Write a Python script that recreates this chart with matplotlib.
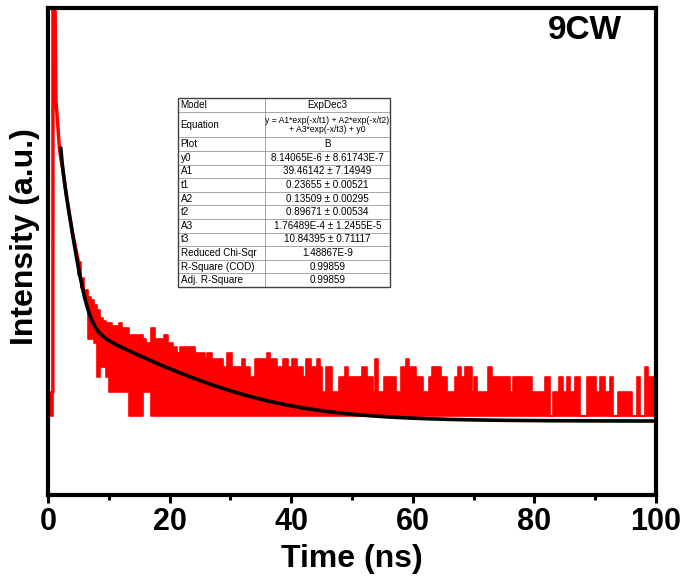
import numpy as np
import matplotlib.pyplot as plt
from matplotlib.ticker import MultipleLocator, NullLocator
from matplotlib.patches import Rectangle

plt.rcParams['font.family'] = ['Liberation Sans', 'DejaVu Sans']

# one detector count on the normalised intensity scale
count_unit = 9.4e-6

# background before the pulse (ns, counts)
pre_t = [0.0, 0.8]
pre_hi = [2, 2]
pre_lo = [1, 1]

# rise and fast decay (ns, counts)
early_t = [0.8, 0.82, 1.15, 1.3, 1.55, 1.9, 2.5, 3.0, 4.0, 5.0]
early_counts = [2, 150000, 140000, 7800, 4400, 1890, 1000, 540, 185, 80]

# noisy trace read as a band: upper level of each stretch (start time, counts)
band_t = [5.0, 5.5, 6.0, 6.5, 7.0, 7.5, 8.0, 8.5, 9.0, 9.5,
          10.0, 10.5, 11.6, 12.2, 13.4, 15.7, 16.1, 17.0, 17.6, 19.0,
          19.8, 20.6, 21.2, 21.7, 24.2, 25.8, 26.1, 26.9, 28.8, 29.4,
          30.2, 31.9, 32.4, 33.2, 34.0, 36.0, 36.5, 37.6, 38.7, 39.5,
          40.2, 41.0, 42.0, 42.5, 43.2, 44.2, 44.8, 45.0, 45.8, 46.7,
          47.8, 48.8, 49.4, 51.6, 52.4, 53.5, 53.8, 54.3, 55.2, 57.3,
          58.0, 58.9, 59.4, 60.6, 61.7, 62.6, 63.1, 64.7, 65.6, 66.9,
          67.5, 68.0, 68.6, 69.7, 70.0, 70.5, 72.4, 73.1, 76.0, 76.4,
          79.6, 81.7, 82.5, 83.0, 84.1, 84.7, 85.3, 85.8, 86.7, 87.5,
          88.6, 90.2, 90.8, 91.6, 92.4, 93.0, 93.8, 96.0, 96.8, 97.4,
          98.2, 98.7]
band_hi = [80, 50, 36, 29, 27, 23, 20, 16, 15, 14,
           14, 13, 14, 12, 10, 9, 8, 12, 9, 10,
           8, 7, 6, 7, 6, 5, 6, 5, 4, 6,
           4, 5, 4, 3, 5, 6, 5, 4, 5, 4,
           5, 4, 3, 5, 4, 5, 4, 2, 4, 2,
           3, 4, 3, 4, 3, 2, 5, 2, 3, 2,
           4, 5, 4, 3, 2, 3, 4, 3, 2, 3,
           4, 3, 4, 2, 3, 2, 4, 3, 2, 3,
           2, 3, 1, 2, 3, 2, 3, 2, 3, 1,
           3, 2, 3, 2, 3, 1, 2, 1, 3, 1,
           4, 3]
# lower level of the band (start time, counts)
low_t = [5.0, 5.5, 6.0, 6.2, 7.2, 7.8, 8.4, 9.5, 10.0, 11.7, 12.2, 12.6, 14.3, 16.4]
low_counts = [55, 38, 28, 9, 8, 3, 4, 3, 2, 1, 2, 1, 2, 1]

# ExpDec3 fit results
fit_y0 = 8.14065e-6
fit_A = [39.46142, 0.13509, 1.76489e-4]
fit_tau = [0.23655, 0.89671, 10.84395]
fit_start = 2.1

table_names = ['Model', 'Equation', 'Plot', 'y0', 'A1', 't1', 'A2', 't2', 'A3', 't3',
               'Reduced Chi-Sqr', 'R-Square (COD)', 'Adj. R-Square']
table_values = ['ExpDec3',
                'y = A1*exp(-x/t1) + A2*exp(-x/t2)\n+ A3*exp(-x/t3) + y0',
                'B', '8.14065E-6 \u00b1 8.61743E-7', '39.46142 \u00b1 7.14949',
                '0.23655 \u00b1 0.00521', '0.13509 \u00b1 0.00295', '0.89671 \u00b1 0.00534',
                '1.76489E-4 \u00b1 1.2455E-5', '10.84395 \u00b1 0.71117', '1.48867E-9',
                '0.99859', '0.99859']

fig = plt.figure(figsize=(6.86, 5.77), dpi=100)
ax = fig.add_axes([48 / 686, 82 / 577, 608 / 686, 487 / 577])

red = '#ff0000'
ax.fill_between(pre_t, np.array(pre_lo) * count_unit, np.array(pre_hi) * count_unit,
                facecolor=red, edgecolor=red, linewidth=1.2)
bx = np.array(band_t + [100.0])
hi = np.array(band_hi + band_hi[-1:], dtype=float)
lo = np.array(low_counts, dtype=float)[np.searchsorted(low_t, bx, side='right') - 1]
ax.fill_between(bx, lo * count_unit, hi * count_unit, step='post',
                facecolor=red, edgecolor=red, linewidth=1.2)
ax.plot(early_t, np.array(early_counts) * count_unit, color=red, lw=2.5)

tf = np.linspace(fit_start, 100, 800)
fit = fit_y0 + sum(a * np.exp(-tf / t) for a, t in zip(fit_A, fit_tau))
ax.plot(tf, fit, color='black', lw=2.6)

ax.set_yscale('log')
ax.set_ylim(1e-6, 1)
ax.set_xlim(0, 100)
ax.yaxis.set_major_locator(NullLocator())
ax.yaxis.set_minor_locator(NullLocator())
ax.xaxis.set_major_locator(MultipleLocator(20))
ax.xaxis.set_minor_locator(MultipleLocator(10))
ax.tick_params(axis='x', which='major', direction='out', length=6, width=2.2,
               labelsize=22, pad=3)
ax.tick_params(axis='x', which='minor', direction='out', length=3.5, width=2.2)
for lbl in ax.get_xticklabels():
    lbl.set_fontweight('bold')
for sp in ax.spines.values():
    sp.set_linewidth(3)

ax.set_xlabel('Time (ns)', fontsize=23, fontweight='bold', labelpad=5)
ax.set_ylabel('Intensity (a.u.)', fontsize=23, fontweight='bold')
ax.yaxis.set_label_coords(-0.013, 0.53)
ax.text(0.944, 0.985, '9CW', transform=ax.transAxes, ha='right', va='top',
        fontsize=24, fontweight='bold')

# fit report table
tb_left, tb_bottom = (178 - 48) / 608, (495 - 287) / 487
tb_w, tb_h = (390 - 178) / 608, (287 - 98) / 487
cells = [[n, v] for n, v in zip(table_names, table_values)]
tab = ax.table(cellText=cells, cellLoc='center', colWidths=[0.41, 0.59],
               bbox=[tb_left, tb_bottom, tb_w, tb_h], zorder=5)
tab.auto_set_font_size(False)
tab.set_fontsize(7.1)
for (r, c), cell in tab.get_celld().items():
    cell.set_edgecolor('#a0a0a0')
    cell.set_linewidth(0.6)
    cell.PAD = 0.03
    cell.set_facecolor('white')
    if c == 0:
        cell._loc = 'left'
        cell.get_text().set_ha('left')
    if r == 1:
        cell.set_height(cell.get_height() * 1.9)
        cell.get_text().set_linespacing(1.0)
        if c == 1:
            cell.get_text().set_fontsize(6.2)
ax.add_patch(Rectangle((tb_left, tb_bottom), tb_w, tb_h, transform=ax.transAxes,
                       fill=False, edgecolor='#404040', lw=1.0, zorder=6))

fig.savefig('out.png', dpi=100)
